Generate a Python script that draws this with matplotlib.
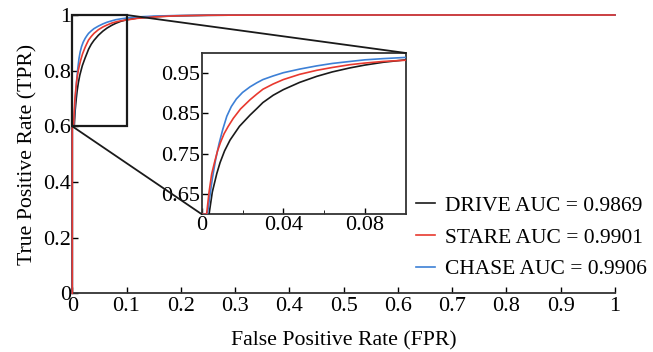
import matplotlib
matplotlib.use("Agg")
from matplotlib import pyplot as plt
from matplotlib.patches import Rectangle, ConnectionPatch

plt.rcParams['font.family'] = ['Liberation Serif', 'DejaVu Serif']

# ROC points
fpr_drive = [0, 0, 0.0036, 0.0052, 0.0074, 0.009, 0.0112, 0.0139, 0.0185, 0.0237, 0.027, 0.030, 0.035,
             0.040, 0.048, 0.0564, 0.064, 0.0727, 0.080, 0.089, 0.1, 0.12, 0.15, 0.19, 0.25, 0.35, 0.5, 1.0]
tpr_drive = [0, 0.6, 0.6, 0.655, 0.701, 0.728, 0.757, 0.784, 0.818, 0.846, 0.862, 0.877, 0.895,
             0.909, 0.927, 0.942, 0.953, 0.963, 0.970, 0.977, 0.983, 0.989, 0.994, 0.997, 0.999, 1.0, 1.0, 1.0]

fpr_stare = [0, 0, 0.0024, 0.0036, 0.0049, 0.0062, 0.0077, 0.0092, 0.011, 0.013, 0.0155, 0.019, 0.0237, 0.027,
             0.030, 0.035, 0.040, 0.048, 0.0564, 0.064, 0.0727, 0.080, 0.089, 0.1, 0.12, 0.15, 0.19, 0.25, 0.35, 0.5, 1.0]
tpr_stare = [0, 0.6, 0.6, 0.655, 0.70, 0.727, 0.756, 0.778, 0.800, 0.818, 0.838, 0.861, 0.884, 0.898,
             0.910, 0.923, 0.934, 0.947, 0.957, 0.964, 0.971, 0.975, 0.979, 0.982, 0.988, 0.993, 0.997, 0.999, 1.0, 1.0, 1.0]

fpr_chase = [0, 0, 0.0028, 0.004, 0.0052, 0.0068, 0.0085, 0.0103, 0.0123, 0.0145, 0.017, 0.020, 0.0237, 0.027,
             0.030, 0.035, 0.040, 0.048, 0.0564, 0.064, 0.0727, 0.080, 0.089, 0.1, 0.12, 0.15, 0.19, 0.25, 0.35, 0.5, 1.0]
tpr_chase = [0, 0.6, 0.6, 0.645, 0.688, 0.735, 0.775, 0.810, 0.843, 0.867, 0.886, 0.902, 0.916, 0.926,
             0.934, 0.943, 0.951, 0.960, 0.968, 0.974, 0.979, 0.983, 0.986, 0.989, 0.993, 0.996, 0.998, 0.999, 1.0, 1.0, 1.0]

names = ["DRIVE AUC = 0.9869", "STARE AUC = 0.9901", "CHASE AUC = 0.9906"]
colors = ["#1a1a1a", "#e8392f", "#3d80d6"]
zorders = [3, 5, 4]

xticks = [0, 0.1, 0.2, 0.3, 0.4, 0.5, 0.6, 0.7, 0.8, 0.9, 1]
xtick_labels = ["0", "0.1", "0.2", "0.3", "0.4", "0.5", "0.6", "0.7", "0.8", "0.9", "1"]
yticks = [0, 0.2, 0.4, 0.6, 0.8, 1]
ytick_labels = ["0", "0.2", "0.4", "0.6", "0.8", "1"]

curves = [(fpr_drive, tpr_drive), (fpr_stare, tpr_stare), (fpr_chase, tpr_chase)]

fig = plt.figure(figsize=(6.53, 3.52), dpi=100)
ax = fig.add_axes([0.1107, 0.1668, 0.831, 0.7906])

for (x, y), c, n, z in zip(curves, colors, names, zorders):
    ax.plot(x, y, color=c, lw=1.2, label=n, zorder=z, clip_on=False)

ax.set_xlim(0, 1)
ax.set_ylim(0, 1)
ax.set_xticks(xticks)
ax.set_xticklabels(xtick_labels)
ax.set_yticks(yticks)
ax.set_yticklabels(ytick_labels)
ax.spines['top'].set_visible(False)
ax.spines['right'].set_visible(False)
for s in ['left', 'bottom']:
    ax.spines[s].set_linewidth(1.3)
    ax.spines[s].set_color('#333333')
ax.tick_params(direction='in', labelsize=16, length=4, width=1, pad=1)
ax.tick_params(axis='x', pad=3)
ax.set_xlabel("False Positive Rate (FPR)", fontsize=15.7, labelpad=11)
ax.set_ylabel("True Positive Rate (TPR)", fontsize=15.7, labelpad=4)

ax.add_patch(Rectangle((0, 0.6), 0.1, 0.4, fill=False, ec='#1a1a1a', lw=1.6, zorder=6, clip_on=False))

handles, labels = ax.get_legend_handles_labels()
leg = ax.legend(handles, labels, loc='lower right', bbox_to_anchor=(1.094, -0.02), frameon=False, fontsize=15.5,
                handlelength=0.9, handletextpad=0.45, labelspacing=0.55)

# zoomed inset
ins = fig.add_axes([0.3089, 0.3915, 0.3124, 0.458])
for (x, y), c, z in zip(curves, colors, zorders):
    ins.plot(x, y, color=c, lw=1.2, zorder=z)
ins.set_xlim(0, 0.1)
ins.set_ylim(0.6, 1.0)
ins.set_xticks([0, 0.04, 0.08])
ins.set_xticklabels(["0", "0.04", "0.08"])
ins.set_xticks([0.02, 0.06], minor=True)
ins.set_yticks([0.65, 0.75, 0.85, 0.95])
ins.set_yticklabels(["0.65", "0.75", "0.85", "0.95"])
for s in ins.spines.values():
    s.set_linewidth(1.3)
    s.set_color('#333333')
ins.tick_params(direction='in', labelsize=16, length=4, width=1, pad=1)
ins.tick_params(which='minor', direction='in', length=3)

con1 = ConnectionPatch(xyA=(0, 0.6), coordsA=ax.transData, xyB=(0, 0.6), coordsB=ins.transData,
                       color='#1a1a1a', lw=1.3)
con2 = ConnectionPatch(xyA=(0.1, 1.0), coordsA=ax.transData, xyB=(0.1, 1.0), coordsB=ins.transData,
                       color='#1a1a1a', lw=1.3)
fig.add_artist(con1)
fig.add_artist(con2)

fig.savefig("out.png", dpi=100)
